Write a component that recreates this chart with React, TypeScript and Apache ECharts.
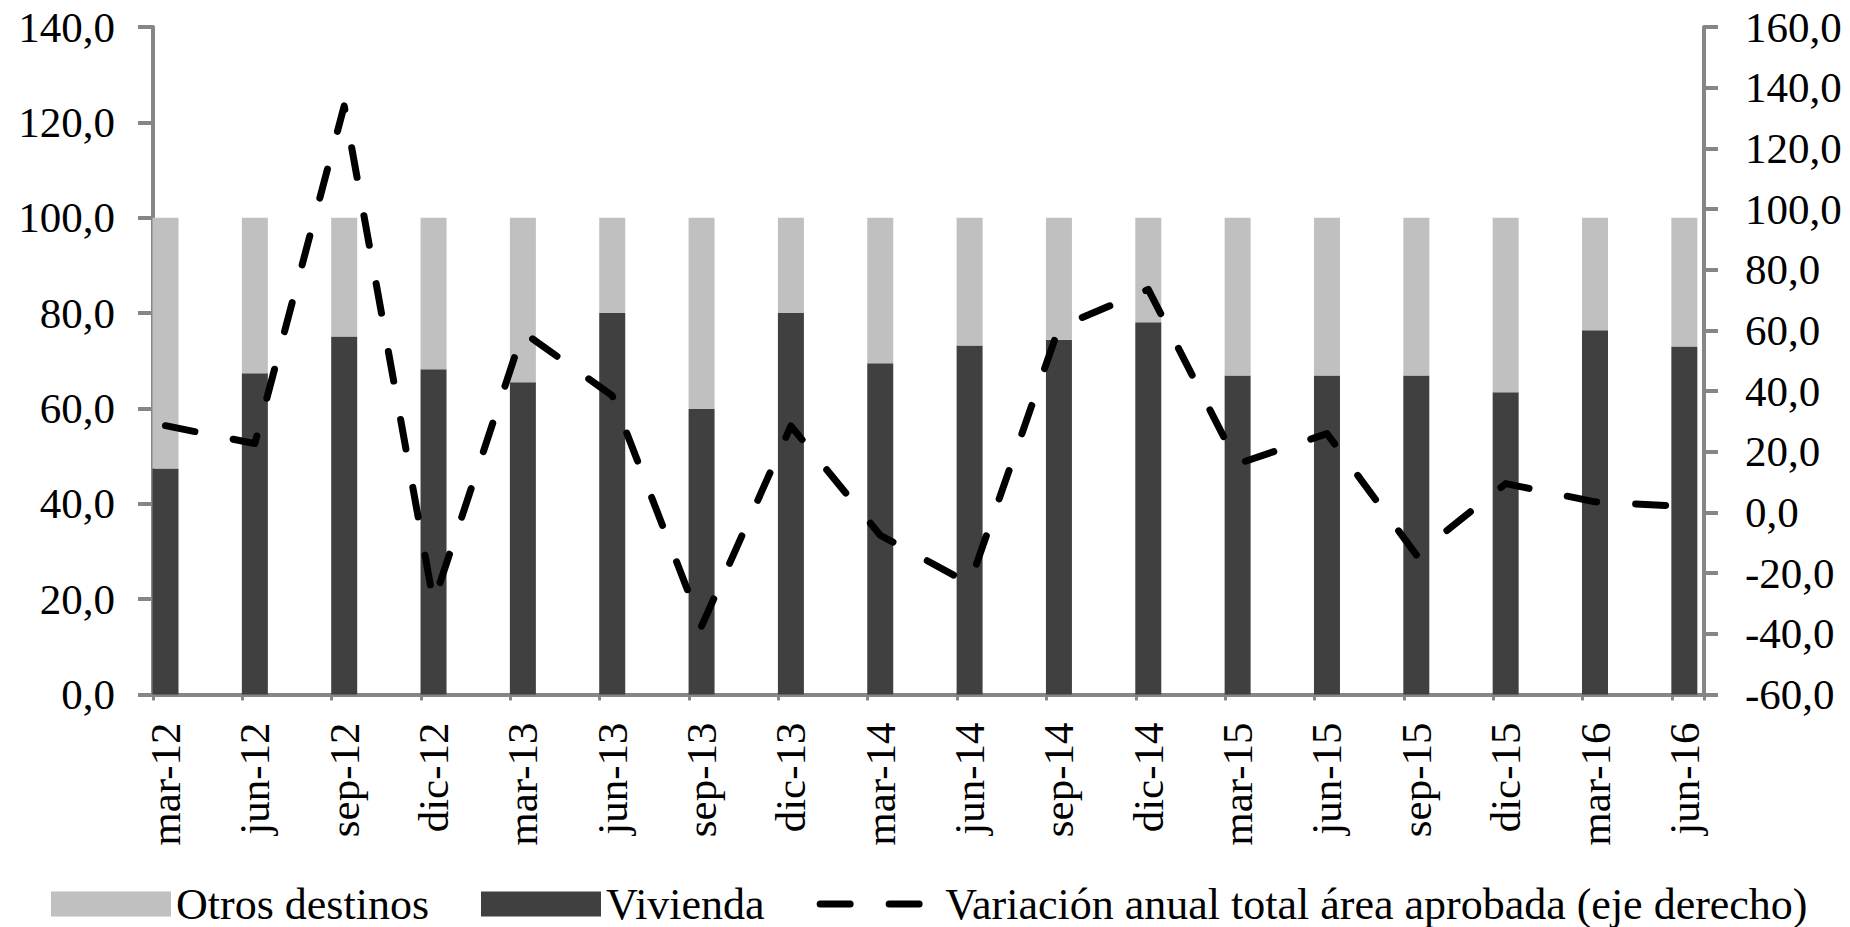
import React, { useEffect, useRef } from 'react';
import * as echarts from 'echarts';

// ---- data ----
const categories = [
  'mar-12', 'jun-12', 'sep-12', 'dic-12',
  'mar-13', 'jun-13', 'sep-13', 'dic-13',
  'mar-14', 'jun-14', 'sep-14', 'dic-14',
  'mar-15', 'jun-15', 'sep-15', 'dic-15',
  'mar-16', 'jun-16',
];

const vivienda = [47.4, 67.4, 75.1, 68.2, 65.5, 80.0, 59.9, 80.0, 69.5, 73.2, 74.4, 78.1, 66.9, 66.9, 66.9, 63.4, 76.4, 73.0];

const otrosDestinos = [52.6, 32.6, 24.9, 31.8, 34.5, 20.0, 40.1, 20.0, 30.5, 26.8, 25.6, 21.9, 33.1, 33.1, 33.1, 36.6, 23.6, 27.0];

const variacionAnual = [28.6, 22.7, 134.0, -29.7, 59.5, 38.5, -37.5, 28.5, -7.5, -23.5, 61.0, 73.5, 16.0, 26.0, -14.0, 9.5, 3.5, 2.0];

const leftAxis = { min: 0, max: 140, interval: 20 };
const rightAxis = { min: -60, max: 160, interval: 20 };

const seriesNames = {
  otros: 'Otros destinos',
  vivienda: 'Vivienda',
  variacion: 'Variación anual total área aprobada (eje derecho)',
};

// ---- layout constants ----
const FONT = '"Liberation Serif", "Times New Roman", serif';
const AXIS_COLOR = '#868686';
const X_MIN = -0.14;
const X_MAX = 17.22;
const LINE_DASH = [30, 39];

const fmt = (v: number) => v.toFixed(1).replace('.', ',');

export default function App() {
  const ref = useRef<HTMLDivElement>(null);

  useEffect(() => {
    if (!ref.current) return;
    const chart = echarts.init(ref.current, undefined, { renderer: 'svg' });

    const catLabel = (v: number) => {
      const r = Math.round(v);
      if (Math.abs(v - r) < 1e-6 && r >= 0 && r < categories.length) return categories[r];
      return '';
    };

    chart.setOption({
      animation: false,
      backgroundColor: '#ffffff',
      textStyle: { fontFamily: FONT },
      grid: {
        left: 153,
        right: 146,
        top: 27,
        bottom: 232.5,
        containLabel: false,
        outerBoundsMode: 'none',
      },
      legend: {
        left: 51,
        top: 882,
        padding: 0,
        itemWidth: 120,
        itemHeight: 25,
        itemGap: 52,
        textStyle: { fontSize: 44, color: '#000', fontFamily: FONT },
        lineStyle: { width: 7, color: '#000', type: LINE_DASH, cap: 'round' },
        data: [
          { name: seriesNames.otros, icon: 'rect' },
          { name: seriesNames.vivienda, icon: 'rect' },
          { name: seriesNames.variacion, itemStyle: { opacity: 0 } },
        ],
      },
      xAxis: [
        {
          type: 'value',
          position: 'bottom',
          min: X_MIN,
          max: X_MAX,
          minInterval: 1,
          maxInterval: 1,
          splitNumber: 17,
          axisLine: { show: false, onZero: false },
          axisTick: { show: false },
          splitLine: { show: false },
          axisLabel: {
            rotate: 90,
            margin: 28,
            fontSize: 43,
            color: '#000',
            fontFamily: FONT,
            formatter: catLabel,
          },
        },
        {
          type: 'value',
          position: 'bottom',
          min: X_MIN,
          max: X_MAX,
          interval: 1,
          axisLine: { show: true, onZero: false, lineStyle: { color: AXIS_COLOR, width: 4 } },
          axisTick: { show: true, length: 6, lineStyle: { color: AXIS_COLOR, width: 3 } },
          axisLabel: { show: false },
          splitLine: { show: false },
        },
      ],
      yAxis: [
        {
          type: 'value',
          position: 'left',
          min: leftAxis.min,
          max: leftAxis.max,
          interval: leftAxis.interval,
          axisLine: { show: true, onZero: false, lineStyle: { color: AXIS_COLOR, width: 4 } },
          axisTick: { show: true, length: 15, lineStyle: { color: AXIS_COLOR, width: 4 } },
          splitLine: { show: false },
          axisLabel: { margin: 38, fontSize: 43, color: '#000', fontFamily: FONT, formatter: fmt },
        },
        {
          type: 'value',
          position: 'right',
          min: rightAxis.min,
          max: rightAxis.max,
          interval: rightAxis.interval,
          axisLine: { show: true, onZero: false, lineStyle: { color: AXIS_COLOR, width: 4 } },
          axisTick: { show: true, length: 14, lineStyle: { color: AXIS_COLOR, width: 4 } },
          splitLine: { show: false },
          axisLabel: { margin: 41, fontSize: 43, color: '#000', fontFamily: FONT, formatter: fmt },
        },
      ],
      series: [
        {
          name: seriesNames.vivienda,
          type: 'bar',
          stack: 'total',
          xAxisIndex: 0,
          yAxisIndex: 0,
          barWidth: 26,
          itemStyle: { color: '#404040' },
          encode: { x: 1, y: 0 },
          data: vivienda.map((v, i) => [v, i]),
        },
        {
          name: seriesNames.otros,
          type: 'bar',
          stack: 'total',
          xAxisIndex: 0,
          yAxisIndex: 0,
          barWidth: 26,
          itemStyle: { color: '#c0c0c0' },
          encode: { x: 1, y: 0 },
          data: otrosDestinos.map((v, i) => [v, i]),
        },
        {
          name: seriesNames.variacion,
          type: 'line',
          xAxisIndex: 0,
          yAxisIndex: 1,
          symbol: 'none',
          itemStyle: { color: '#000' },
          lineStyle: { color: '#000', width: 7, type: LINE_DASH, cap: 'round', join: 'round' },
          data: variacionAnual.map((v, i) => [i, v]),
        },
      ],
    });

    return () => chart.dispose();
  }, []);

  return (
    <div
      ref={ref}
      style={{ position: 'absolute', left: 0, top: 0, width: 1850, height: 927 }}
    />
  );
}
